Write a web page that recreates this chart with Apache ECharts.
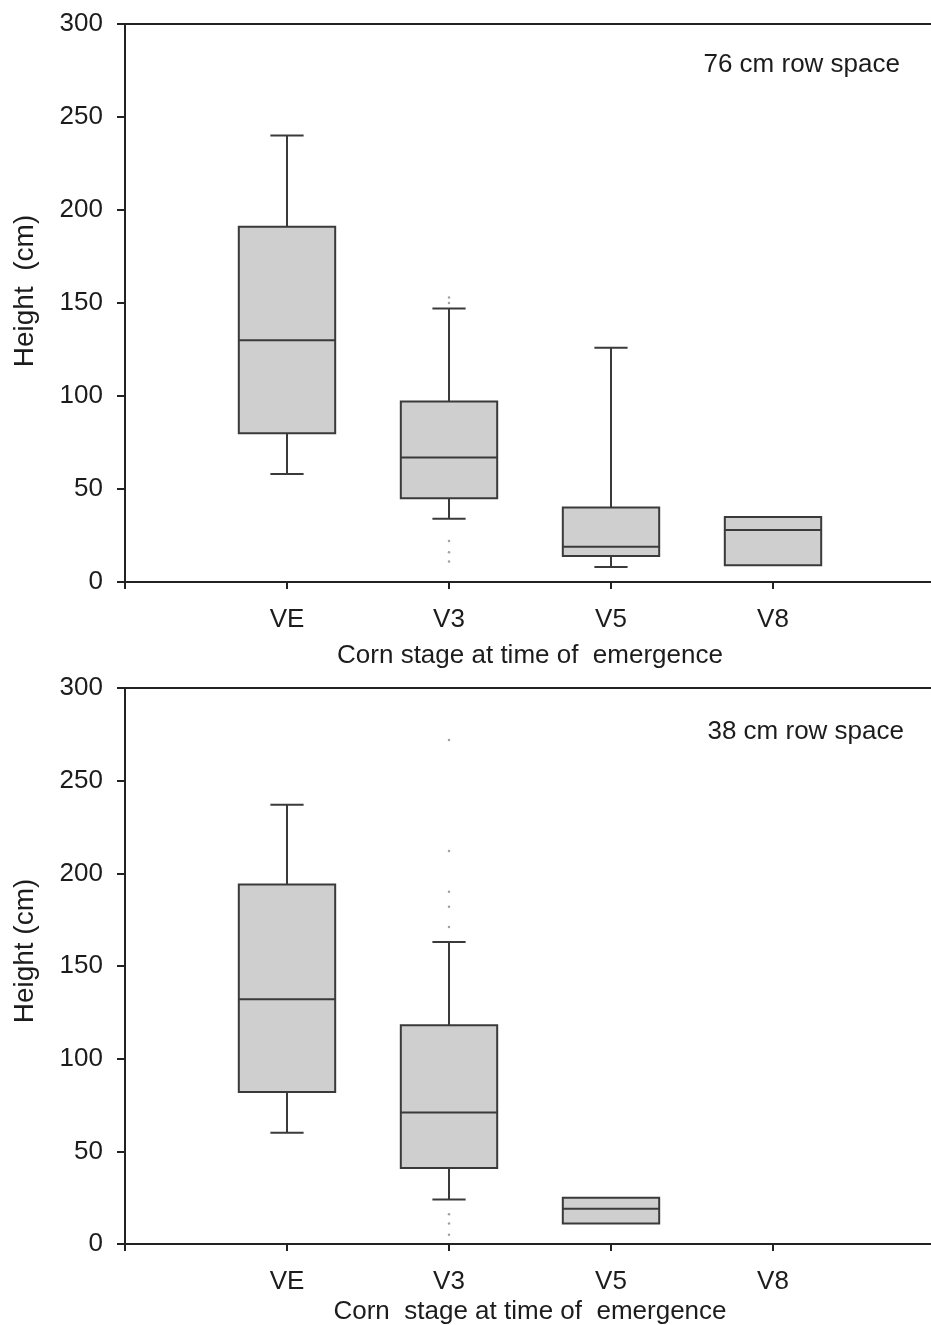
<!DOCTYPE html>
<html>
<head>
<meta charset="utf-8">
<script src="https://cdn.jsdelivr.net/npm/echarts@6/dist/echarts.min.js"></script>
<style>
html,body{margin:0;padding:0;background:#fff;}
#chart{width:931px;height:1325px;}
</style>
</head>
<body>
<div id="chart"></div>
<script>
// ---- data ----
const categories = ['VE', 'V3', 'V5', 'V8'];
const yTicks = [0, 50, 100, 150, 200, 250, 300];
// [min, Q1, median, Q3, max] per category — 76 cm row space
const stats76 = [
  [58, 80, 130, 191, 240],
  [34, 45, 67, 97, 147],
  [8, 14, 19, 40, 126],
  [9, 9, 28, 35, 35]
];
// outliers [categoryIndex, value] — 76 cm
const outliers76 = [[1, 153], [1, 150], [1, 22], [1, 16], [1, 11]];
// [min, Q1, median, Q3, max] per category — 38 cm row space (V8 has no data)
const stats38 = [
  [60, 82, 132, 194, 237],
  [24, 41, 71, 118, 163],
  [11, 11, 19, 25, 25],
  null
];
const outliers38 = [[1, 272], [1, 212], [1, 190], [1, 182], [1, 171], [1, 16], [1, 11], [1, 5]];
const panelLabels = ['76 cm row space', '38 cm row space'];
const yNames = ['Height  (cm)', 'Height (cm)'];
const xNames = ['Corn stage at time of  emergence', 'Corn  stage at time of  emergence'];

// ---- helpers ----
const axisCats = [''].concat(categories, ['']);
const FONT = 'Liberation Sans';
const FS = 26;
const TXT = '#1c1c1c';

function toBoxData(stats) {
  const out = [];
  stats.forEach((s, i) => { if (s) out.push([i + 1].concat(s)); });
  return out;
}
function toScatter(list) {
  return list.map(p => [p[0] + 1, p[1]]);
}

function renderBox(params, api) {
  const x = api.value(0);
  const mn = api.value(1), q1 = api.value(2), md = api.value(3), q3 = api.value(4), mx = api.value(5);
  const band = api.size([1, 0])[0];
  const bw = band * 0.595;
  const cw = band * 0.205;
  const pMin = api.coord([x, mn]), pQ1 = api.coord([x, q1]), pMd = api.coord([x, md]);
  const pQ3 = api.coord([x, q3]), pMax = api.coord([x, mx]);
  const cx = pMd[0];
  const lineStyle = { stroke: '#3a3a3a', lineWidth: 2, fill: null };
  const children = [];
  if (mx > q3) {
    children.push({ type: 'line', shape: { x1: cx, y1: pQ3[1], x2: cx, y2: pMax[1] }, style: lineStyle });
    children.push({ type: 'line', shape: { x1: cx - cw / 2, y1: pMax[1], x2: cx + cw / 2, y2: pMax[1] }, style: lineStyle });
  }
  if (mn < q1) {
    children.push({ type: 'line', shape: { x1: cx, y1: pQ1[1], x2: cx, y2: pMin[1] }, style: lineStyle });
    children.push({ type: 'line', shape: { x1: cx - cw / 2, y1: pMin[1], x2: cx + cw / 2, y2: pMin[1] }, style: lineStyle });
  }
  children.push({
    type: 'rect',
    shape: { x: cx - bw / 2, y: pQ3[1], width: bw, height: pQ1[1] - pQ3[1] },
    style: { fill: '#cfcfcf', stroke: '#3a3a3a', lineWidth: 2 }
  });
  children.push({ type: 'line', shape: { x1: cx - bw / 2, y1: pMd[1], x2: cx + bw / 2, y2: pMd[1] }, style: lineStyle });
  return { type: 'group', children: children };
}

const grids = [
  { left: 125, top: 24, width: 810, height: 558 },
  { left: 125, top: 688, width: 810, height: 556 }
];
const xNameGaps = [61, 55];
const yNamePad = [[0, 0, 0, 24], [0, 0, 0, 30]];

const option = {
  animation: false,
  backgroundColor: '#ffffff',
  textStyle: { fontFamily: FONT },
  grid: grids.map(g => Object.assign({
    show: true, borderColor: '#222', borderWidth: 2, backgroundColor: 'transparent',
    outerBoundsMode: 'none', containLabel: false
  }, g)),
  xAxis: [0, 1].map(i => ({
    type: 'category',
    gridIndex: i,
    data: axisCats,
    boundaryGap: false,
    name: xNames[i],
    nameLocation: 'middle',
    nameGap: xNameGaps[i],
    nameTextStyle: { fontFamily: FONT, fontSize: FS, color: TXT },
    axisLine: { lineStyle: { color: '#222', width: 2 } },
    axisTick: { show: true, length: 7, lineStyle: { color: '#222', width: 2 } },
    axisLabel: { fontFamily: FONT, fontSize: FS, color: TXT, margin: 25, interval: 0 },
    splitLine: { show: false }
  })),
  yAxis: [0, 1].map(i => ({
    type: 'value',
    gridIndex: i,
    min: yTicks[0],
    max: yTicks[yTicks.length - 1],
    interval: yTicks[1] - yTicks[0],
    name: yNames[i],
    nameLocation: 'middle',
    nameGap: 86,
    nameTextStyle: { fontFamily: FONT, fontSize: 28, color: TXT, padding: yNamePad[i] },
    axisLine: { show: true, lineStyle: { color: '#222', width: 2 } },
    axisTick: { show: true, length: 8, lineStyle: { color: '#222', width: 2 } },
    axisLabel: { fontFamily: FONT, fontSize: FS, color: TXT, margin: 22 },
    splitLine: { show: false }
  })),
  series: [
    { type: 'custom', xAxisIndex: 0, yAxisIndex: 0, renderItem: renderBox, data: toBoxData(stats76), encode: { x: 0, y: [1, 2, 3, 4, 5] }, z: 3 },
    { type: 'custom', xAxisIndex: 1, yAxisIndex: 1, renderItem: renderBox, data: toBoxData(stats38), encode: { x: 0, y: [1, 2, 3, 4, 5] }, z: 3 },
    { type: 'scatter', xAxisIndex: 0, yAxisIndex: 0, data: toScatter(outliers76), symbolSize: 2.5, itemStyle: { color: '#8a8a8a' }, z: 2 },
    { type: 'scatter', xAxisIndex: 1, yAxisIndex: 1, data: toScatter(outliers38), symbolSize: 2.5, itemStyle: { color: '#8a8a8a' }, z: 2 }
  ],
  graphic: [
    { type: 'text', right: 31, top: 52, style: { text: panelLabels[0], font: FS + 'px "Liberation Sans"', fill: TXT } },
    { type: 'text', right: 27, top: 719, style: { text: panelLabels[1], font: FS + 'px "Liberation Sans"', fill: TXT } }
  ]
};

const chart = echarts.init(document.getElementById('chart'), null, { renderer: 'canvas' });
chart.setOption(option);
</script>
</body>
</html>
